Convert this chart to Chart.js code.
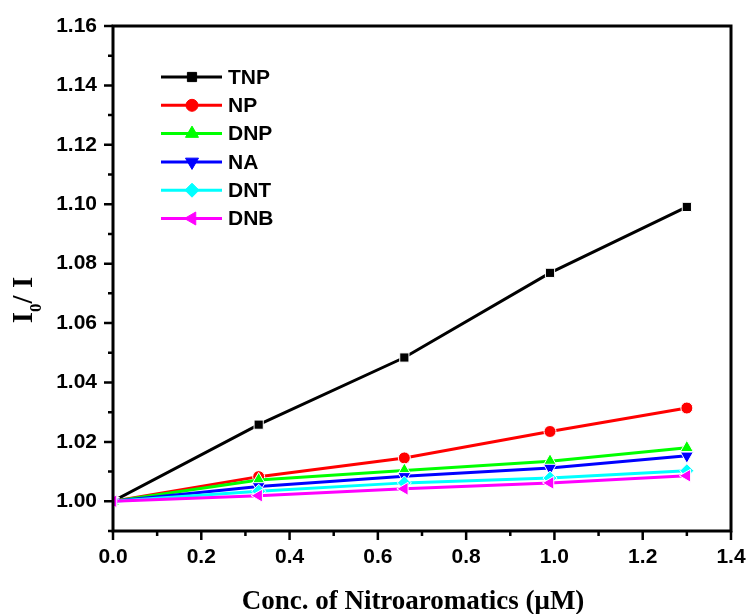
<!DOCTYPE html>
<html>
<head>
<meta charset="utf-8">
<script src="https://cdn.jsdelivr.net/npm/chart.js@4.4.1/dist/chart.umd.min.js"></script>
<style>
  html, body { margin: 0; padding: 0; background: #fff; }
  #wrap { width: 751px; height: 614px; }
</style>
</head>
<body>
<div id="wrap"><canvas id="quench-chart" width="751" height="614"></canvas></div>
<script>
/* ============================== DATA ============================== */
const conc = [0, 0.33, 0.66, 0.99, 1.3];   // uM

const seriesNames = ['TNP', 'NP', 'DNP', 'NA', 'DNT', 'DNB'];
const tnp = [1.000, 1.0258, 1.0484, 1.0769, 1.0991];
const np  = [1.000, 1.0083, 1.0146, 1.0235, 1.0314];
const dnp = [1.000, 1.0072, 1.0104, 1.0135, 1.0180];
const na  = [1.000, 1.0050, 1.0084, 1.0112, 1.0153];
const dnt = [1.000, 1.0034, 1.0062, 1.0078, 1.0103];
const dnb = [1.000, 1.0019, 1.0042, 1.0062, 1.0086];
const seriesValues = [tnp, np, dnp, na, dnt, dnb];

const xTickStep = 0.1;   // labels every 0.2
const yTickStep = 0.01;  // labels every 0.02


/* ============================== STYLE ============================== */
const colors = ['#000000', '#ff0000', '#00ff00', '#0000ff', '#00ffff', '#ff00ff'];
const shapes = ['rect', 'circle', 'triangle', 'triangle', 'rectRot', 'triangle'];
const rotations = [0, 0, 0, 180, 0, 270];
const radii = [6.5, 6, 7.5, 7.5, 7, 7.5];

const sansBold = 'bold 21px "Liberation Sans", Arial, sans-serif';
const serifBold = '"Liberation Serif", "Times New Roman", serif';


/* ============================== PLUGINS ============================== */
// frame + outward major/minor ticks
const framePlugin = {
    id: 'framePlugin',
    afterDraw(chart) {
        const { ctx, chartArea: a, scales } = chart;
        ctx.save();
        ctx.strokeStyle = '#000';
        ctx.lineWidth = 3;
        ctx.strokeRect(a.left, a.top, a.right - a.left, a.bottom - a.top);

        ctx.lineWidth = 2.5;
        ctx.beginPath();
        scales.y.ticks.forEach(t => {
            const py = scales.y.getPixelForValue(t.value);
            const major = Math.round(t.value * 100) % 2 === 0;
            ctx.moveTo(a.left, py);
            ctx.lineTo(a.left - (major ? 9 : 5), py);
        });
        scales.x.ticks.forEach(t => {
            const px = scales.x.getPixelForValue(t.value);
            const major = Math.round(t.value * 10) % 2 === 0;
            ctx.moveTo(px, a.bottom);
            ctx.lineTo(px, a.bottom + (major ? 9 : 5));
        });
        ctx.stroke();
        ctx.restore();
    }
};

// legend inside the plot, top left
const legendPlugin = {
    id: 'legendPlugin',
    afterDraw(chart) {
        const { ctx } = chart;
        ctx.save();
        chart.data.datasets.forEach((ds, i) => {
            const y = 77 + i * 28.3;
            ctx.strokeStyle = ds.borderColor;
            ctx.lineWidth = 3;
            ctx.beginPath();
            ctx.moveTo(161, y);
            ctx.lineTo(222, y);
            ctx.stroke();

            ctx.fillStyle = ds.borderColor;
            ctx.strokeStyle = ds.borderColor;
            ctx.lineWidth = 1;
            Chart.helpers.drawPoint(ctx, {
                pointStyle: ds.pointStyle,
                rotation: ds.pointRotation,
                radius: ds.pointRadius,
                borderWidth: 1
            }, 192, y);

            ctx.fillStyle = '#000';
            ctx.font = sansBold;
            ctx.textBaseline = 'middle';
            ctx.textAlign = 'left';
            ctx.fillText(ds.label, 228, y + 1);
        });
        ctx.restore();
    }
};

// axis titles, with the subscript on I0
const titlePlugin = {
    id: 'titlePlugin',
    afterDraw(chart) {
        const { ctx } = chart;
        ctx.save();
        ctx.fillStyle = '#000';

        ctx.font = 'bold 27px ' + serifBold;
        ctx.textAlign = 'center';
        ctx.textBaseline = 'alphabetic';
        ctx.fillText('Conc. of Nitroaromatics (\u03bcM)', 413, 609);

        ctx.translate(32, 300);
        ctx.rotate(-Math.PI / 2);
        ctx.textAlign = 'left';
        const big = 'bold 29px ' + serifBold;
        const small = 'bold 17px ' + serifBold;
        ctx.font = big;
        const wI = ctx.measureText('I').width;
        const wRest = ctx.measureText('/ I').width;
        ctx.font = small;
        const w0 = ctx.measureText('0').width;
        let x = -(wI + w0 + wRest) / 2;
        ctx.font = big;
        ctx.fillText('I', x, 0);
        x += wI;
        ctx.font = small;
        ctx.fillText('0', x, 9);
        x += w0;
        ctx.font = big;
        ctx.fillText('/ I', x, 0);
        ctx.restore();
    }
};


/* ============================== CHART ============================== */
function quenchChart() {
    const ctx = document.getElementById('quench-chart').getContext('2d');

    const datasets = seriesNames.map((name, i) => ({
        label: name,
        data: conc.map((c, j) => ({ x: c, y: seriesValues[i][j] })),
        borderColor: colors[i],
        backgroundColor: colors[i],
        pointBackgroundColor: colors[i],
        pointBorderColor: '#ffffff',
        pointBorderWidth: 1,
        pointStyle: shapes[i],
        pointRotation: rotations[i],
        pointRadius: radii[i],
        borderWidth: 3,
        tension: 0,
        order: seriesNames.length - i      // last series drawn on top
    }));

    new Chart(ctx, {
        type: 'line',
        data: { datasets },
        options: {
            responsive: false,
            animation: false,
            layout: { padding: { left: 0, right: 20, top: 26, bottom: 0 } },
            plugins: {
                legend: { display: false },
                tooltip: { enabled: false }
            },
            scales: {
                x: {
                    type: 'linear',
                    min: 0,
                    max: 1.4,
                    grid: { display: false, drawTicks: false },
                    border: { display: false },
                    ticks: {
                        stepSize: xTickStep,
                        autoSkip: false,
                        maxRotation: 0,
                        padding: 14,
                        color: '#000',
                        font: { family: '"Liberation Sans", Arial, sans-serif', size: 21, weight: 'bold' },
                        callback: v => Math.round(v * 10) % 2 === 0 ? v.toFixed(1) : ''
                    },
                    afterFit: s => { s.height = 83; s.paddingLeft = 0; s.paddingRight = 0; }
                },
                y: {
                    type: 'linear',
                    min: 0.99,
                    max: 1.16,
                    grid: { display: false, drawTicks: false },
                    border: { display: false },
                    ticks: {
                        stepSize: yTickStep,
                        autoSkip: false,
                        padding: 16,
                        color: '#000',
                        font: { family: '"Liberation Sans", Arial, sans-serif', size: 21, weight: 'bold' },
                        callback: v => Math.round(v * 100) % 2 === 0 ? v.toFixed(2) : ''
                    },
                    afterFit: s => { s.width = 113; s.paddingTop = 0; s.paddingBottom = 0; }
                }
            }
        },
        plugins: [framePlugin, legendPlugin, titlePlugin]
    });
}

quenchChart();
</script>
</body>
</html>
